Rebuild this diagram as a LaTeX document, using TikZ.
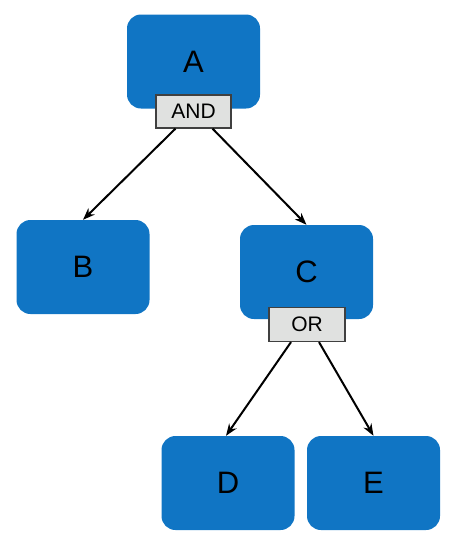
\documentclass[tikz,border=0pt]{standalone}
\usepackage{fontspec}
\setmainfont{Liberation Sans}
\usepackage{tikz}
\usetikzlibrary{arrows.meta,positioning}

\definecolor{goalblue}{HTML}{1075C4}
\definecolor{gategray}{HTML}{E0E1E0}

\begin{document}
\begin{tikzpicture}[
  x=1pt, y=-1pt,
  goal/.style={rectangle, fill=goalblue, rounded corners=14pt, minimum width=133pt, minimum height=94pt, inner sep=0pt, font=\fontsize{31}{32}\selectfont},
  gate/.style={rectangle, draw=black!75, line width=1.2pt, fill=gategray, minimum width=75pt, minimum height=33pt, inner sep=0pt, font=\fontsize{21}{23}\selectfont},
  link/.style={draw, -{Stealth[length=12pt,width=9pt]}, line width=2pt},
]
\useasboundingbox (0,0) rectangle (456,549);

\node[goal] (a) at (193.5,61.5) {A};
\node[goal] (b) at (83,267) {B};
\node[goal] (c) at (306.5,272) {C};
\node[goal] (d) at (228,483) {D};
\node[goal] (e) at (373.5,483) {E};

\node[gate] (andgate) at (193.5,111.5) {AND};
\node[gate, minimum width=76pt, minimum height=34pt] (orgate) at (307,324.5) {OR};

\draw[link] ([xshift=-18pt]andgate.south) -- (b.north);
\draw[link] ([xshift=19pt]andgate.south) -- (c.north);
\draw[link] ([xshift=-16pt]orgate.south) -- ([xshift=-2pt]d.north);
\draw[link] ([xshift=12pt]orgate.south) -- (e.north);
\end{tikzpicture}
\end{document}
